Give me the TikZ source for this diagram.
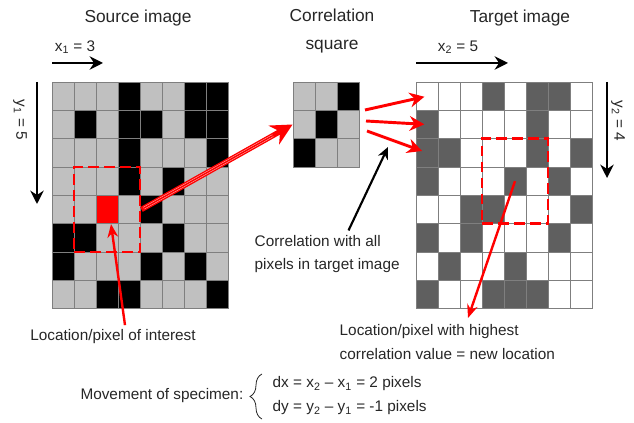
\documentclass[tikz,border=0pt]{standalone}
\usepackage{fontspec}
\setmainfont{Liberation Sans}
\usetikzlibrary{arrows.meta,positioning,decorations.pathreplacing}
\definecolor{pxG}{HTML}{C0C0C0}
\definecolor{pxK}{HTML}{000000}
\definecolor{pxW}{HTML}{FFFFFF}
\definecolor{pxD}{HTML}{5F5F5F}
\definecolor{pxR}{HTML}{FF0000}
\definecolor{GridLine}{HTML}{7F7F7F}
\definecolor{TextGray}{HTML}{262626}

\begin{document}
\begin{tikzpicture}[x=0.75pt,y=-0.75pt,font=\fontsize{11.5}{17.5}\selectfont,text=TextGray,
  cell/.style={draw=GridLine,line width=0.6pt,minimum width=16.5pt,minimum height=21.25pt,inner sep=0pt},
  win/.style={draw=pxR,line width=2.2pt,dash pattern=on 8pt off 4pt,minimum width=49.5pt,minimum height=63.75pt,inner sep=0pt},
  ttl/.style={font=\fontsize{13}{21}\selectfont,align=center},
  blk/.style={-{Stealth[length=10pt,width=10pt]},line width=2pt,black},
  blkthin/.style={-{Stealth[length=9pt,width=8pt]},line width=1.6pt,black},
  rd/.style={-{Stealth[length=11pt,width=11pt]},line width=2.2pt,pxR},
  rdthin/.style={-{Stealth[length=10pt,width=8pt]},line width=1.8pt,pxR}]
  \useasboundingbox (0,0) rectangle (634,423);
  \node[ttl] (srcttl) at (138,18) {Source image};
  \node[ttl] (corttl) at (332,31) {Correlation\\square};
  \node[ttl] (tgtttl) at (520,18) {Target image};
  \foreach \row [count=\r] in {{G,G,G,K,G,G,K,K},{G,K,G,K,K,G,K,K},{G,G,G,K,G,G,G,K},{G,G,G,K,G,K,G,G},
    {G,G,R,G,K,G,G,G},{K,K,G,G,G,K,G,G},{K,G,G,G,K,G,K,G},{G,G,K,K,G,G,G,K}}
    \foreach \c [count=\k] in \row
      \node[cell,fill=px\c] (s\r-\k) at ({41+22*\k},{67.83+28.33*\r}) {};
  \foreach \row [count=\r] in {{G,G,K},{G,K,G},{K,G,G}}
    \foreach \c [count=\k] in \row
      \node[cell,fill=px\c] (c\r-\k) at ({282+22*\k},{67.83+28.33*\r}) {};
  \foreach \row [count=\r] in {{W,W,W,D,W,D,D,W},{D,W,W,W,W,D,W,W},{D,D,W,W,W,D,W,D},{D,W,W,W,D,W,D,W},
    {W,W,D,D,W,W,W,D},{D,W,D,W,W,W,D,W},{W,D,W,W,D,W,W,W},{D,W,W,D,D,D,W,W}}
    \foreach \c [count=\k] in \row
      \node[cell,fill=px\c] (t\r-\k) at ({405+22*\k},{67.83+28.33*\r}) {};
  \node[win] (srcwin) at (s5-3) {};
  \node[win] (tgtwin) at (t4-5) {};
  \node (x1lbl) at (75,47) {x\textsubscript{1} = 3};
  \node (x2lbl) at (458,47) {x\textsubscript{2} = 5};
  \node[rotate=-90] (y1lbl) at (20,120) {y\textsubscript{1} = 5};
  \node[rotate=-90] (y2lbl) at (618,121) {y\textsubscript{2} = 4};
  \coordinate (x1a) at (52,63); \coordinate (x1b) at (103,63);
  \coordinate (x2a) at (416,63); \coordinate (x2b) at (508,63);
  \coordinate (y1a) at (37,82); \coordinate (y1b) at (37,204);
  \coordinate (y2a) at (607,82); \coordinate (y2b) at (607,178);
  \draw[blk] (x1a) -- (x1b);
  \draw[blk] (x2a) -- (x2b);
  \draw[blk] (y1a) -- (y1b);
  \draw[blk] (y2a) -- (y2b);
  \draw[pxR,line width=4pt,-{Stealth[length=16pt,width=16pt]}] (srcwin.east) -- (c2-1.west);
  \draw[pxR!30,line width=0.4pt,double=pxR,double distance=1.1pt,shorten >=17pt,shorten <=2pt] (srcwin.east) -- (c2-1.west);
  \coordinate (fan1) at (365,110); \coordinate (fan2) at (366,121); \coordinate (fan3) at (367,131);
  \draw[rd,shorten >=2pt] (fan1) -- (t1-1.center);
  \draw[rd,shorten >=2pt] (fan2) -- (t2-1.center);
  \draw[rd,shorten >=4pt] (fan3) -- (t3-1.center);
  \node[anchor=west,align=left] (corrnote) at (250,254) {Correlation with all\\pixels in target image};
  \coordinate (corrtip) at (388,147);
  \draw[blkthin] ([xshift=16pt]corrnote.north) -- (corrtip);
  \node (poi) at (113,337) {Location/pixel of interest};
  \draw[rdthin] ([xshift=9pt]poi.north) -- ([xshift=3pt]s5-3.south);
  \node[anchor=west,align=left] (hinote) at (335,342) {Location/pixel with highest\\correlation value = new location};
  \coordinate (hitip) at (468,318);
  \draw[rdthin] (t4-5.center) -- (hitip);
  \node[anchor=east] (move) at (248,396) {Movement of specimen:};
  \coordinate (br1) at (262,419); \coordinate (br2) at (262,374);
  \draw[TextGray,line width=0.6pt,decorate,decoration={brace,amplitude=9pt}] (br1) -- (br2);
  \node[anchor=west] (dxlbl) at (268,384) {dx = x\textsubscript{2} – x\textsubscript{1} = 2 pixels};
  \node[anchor=west] (dylbl) at (268,408) {dy = y\textsubscript{2} – y\textsubscript{1} = -1 pixels};
\end{tikzpicture}
\end{document}
